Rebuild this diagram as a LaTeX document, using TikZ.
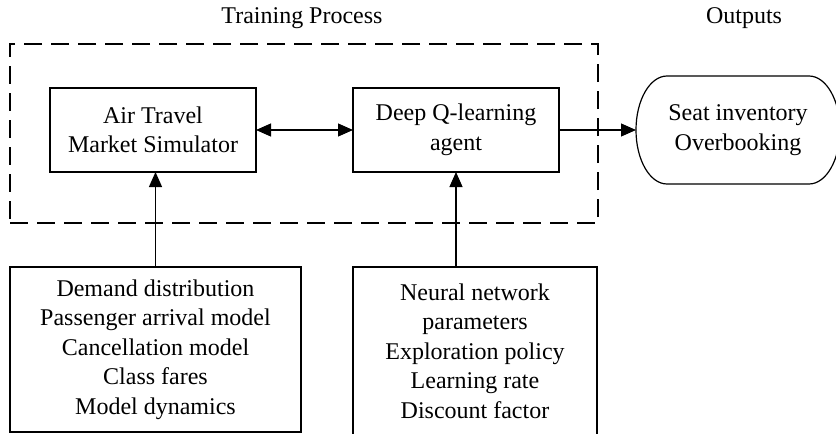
\documentclass[tikz,border=0pt]{standalone}
\usepackage{fontspec}
\setmainfont{Liberation Serif}
\usetikzlibrary{arrows.meta, positioning, calc}

\tikzset{
block/.style = {%
    draw, line width=1.2pt, align=center,
    inner sep=0pt, outer sep=0pt,
    minimum width=#1},
    block/.default = 206pt % width of the box
}
\tikzset{
dashframe/.style = {%
    draw, line width=2.6pt, dash pattern=on 18pt off 9pt,
    inner sep=0pt, outer sep=0pt}
}

\begin{document}
\begin{tikzpicture}[%
        x=1pt, y=-1pt,
        font=\fontsize{24}{29.5}\selectfont,
        >={Triangle[length=15pt,width=13pt]},
        every edge/.style = {draw, ->, line width=1.2pt}
    ]
        \useasboundingbox (0,0) rectangle (836,434);

        % Dashed frame round the training loop
        \node[dashframe, minimum width=588pt, minimum height=179pt] at (304,133.5) (frame) {};

        % Headings
        \node[] at (302,18)  (train)   {Training Process};
        \node[] at (744,18)  (outlbl)  {Outputs};

        % Simulator and agent
        \node[block, minimum height=84pt] at (153,130) (sim)   {Air Travel\\Market Simulator};
        \node[block, minimum height=84pt] at (456,130) (agent) {Deep Q-learning\\agent};

        % Output terminal (elliptic ends drawn by hand)
        \node[align=center, minimum width=204pt, minimum height=108pt, inner sep=0pt, outer sep=0pt] at (738,130) (out) {Seat inventory\\Overbooking};
        \draw[line width=1.2pt] ([xshift=31pt]out.north west) -- ([xshift=-31pt]out.north east)
            arc[start angle=90, end angle=-90, x radius=31pt, y radius=54pt]
            -- ([xshift=31pt]out.south west)
            arc[start angle=270, end angle=90, x radius=31pt, y radius=54pt];

        % Input boxes
        \node[block=291pt, minimum height=165pt] at (155.5,349.5) (env)
            {Demand distribution\\Passenger arrival model\\Cancellation model\\Class fares\\Model dynamics};
        \node[block=244pt, minimum height=168pt] at (475,351) (hyp)
            {Neural network\\parameters\\Exploration policy\\Learning rate\\Discount factor};

        % Connectors
        \draw (sim.east) edge[<->] (agent.west);
        \draw (agent.east) edge (out.west);
        \draw (env.north) edge (env.north |- sim.south);
        \draw (agent.south |- hyp.north) edge (agent.south);

    \end{tikzpicture}
\end{document}
